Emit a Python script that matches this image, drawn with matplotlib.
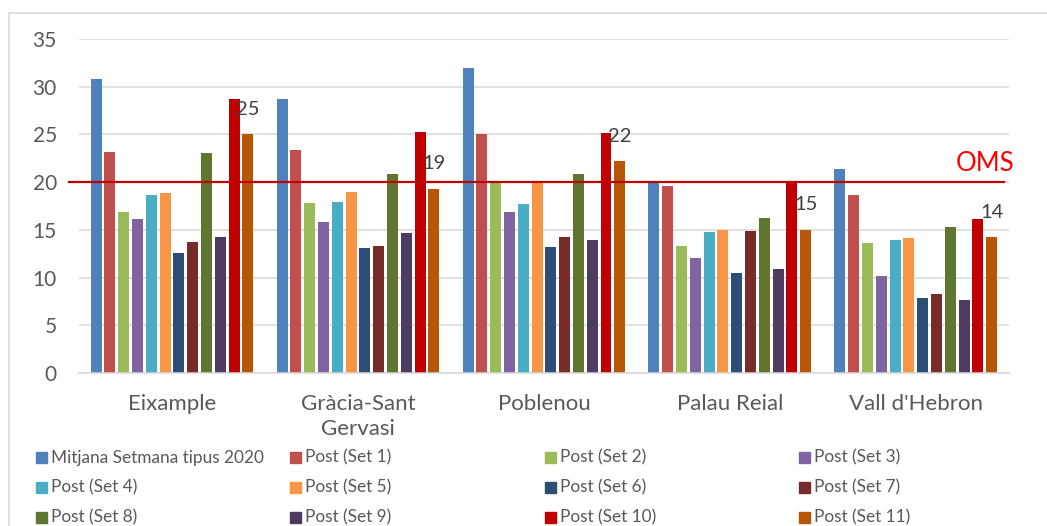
import matplotlib
matplotlib.use("Agg")
import matplotlib.pyplot as plt
from matplotlib.patches import Rectangle
import numpy as np

plt.rcParams["font.family"] = ["Lato", "DejaVu Sans"]

districts = ["Eixample", "Gràcia-Sant\nGervasi", "Poblenou", "Palau Reial", "Vall d'Hebron"]
series = ["Mitjana Setmana tipus 2020"] + ["Post (Set %d)" % i for i in range(1, 12)]
colors = ["#4F81BD", "#C0504D", "#9BBB59", "#8064A2", "#4BACC6", "#F79646",
          "#2C4D75", "#772C2A", "#5F7530", "#4D3B62", "#C00000", "#B65708"]

mitjana = [30.8, 28.7, 32.0, 20.1, 21.4]
set1 = [23.2, 23.4, 25.0, 19.6, 18.7]
set2 = [16.9, 17.8, 20.0, 13.3, 13.6]
set3 = [16.1, 15.8, 16.9, 12.1, 10.2]
set4 = [18.7, 17.9, 17.7, 14.8, 13.9]
set5 = [18.9, 19.0, 20.0, 15.0, 14.1]
set6 = [12.6, 13.1, 13.2, 10.5, 7.9]
set7 = [13.7, 13.3, 14.2, 14.9, 8.3]
set8 = [23.0, 20.9, 20.8, 16.2, 15.3]
set9 = [14.3, 14.7, 13.9, 10.9, 7.7]
set10 = [28.7, 25.2, 25.1, 20.0, 16.1]
set11 = [25.0, 19.3, 22.2, 15.0, 14.2]
values = [mitjana, set1, set2, set3, set4, set5, set6, set7, set8, set9, set10, set11]

oms = 20

fig = plt.figure(figsize=(10.47, 5.26), dpi=100)
ax = fig.add_axes([0.0755, 0.2909, 0.888, 0.635])

x = np.arange(len(districts))
step = 0.0742
for i, (vals, c) in enumerate(zip(values, colors)):
    ax.bar(x + (i - 5.5) * step, vals, width=0.059, color=c, zorder=2)

# labels on Set 11
for xi, v in zip(x + 5.5 * step, set11):
    ax.annotate("%d" % round(v), (xi, v), xytext=(0, 18), textcoords="offset points",
                ha="center", va="center", fontsize=14.5, color="#404040")

ax.axhline(oms, xmin=-0.011, xmax=0.995, color="#C00000", lw=1.6, clip_on=False, zorder=3)
ax.text(0.974, 22.0, "OMS", transform=ax.get_yaxis_transform(), color="#FF0000",
        fontsize=18.5, ha="center", va="center")

ax.set_xlim(-0.5, 4.5)
ax.set_ylim(0, 35)
ax.set_yticks(range(0, 36, 5))
ax.set_xticks(x)
ax.set_xticklabels(districts, linespacing=1.3)
ax.grid(axis="y", color="#D9D9D9", lw=1.1, zorder=0)
for s in ["top", "right", "left"]:
    ax.spines[s].set_visible(False)
ax.spines["bottom"].set_color("#D9D9D9")
ax.spines["bottom"].set_linewidth(1.1)
ax.tick_params(axis="y", length=0, pad=16, labelsize=15, labelcolor="#595959")
ax.tick_params(axis="x", length=0, pad=15, labelsize=16, labelcolor="#595959")

# legend, fixed-width columns like excel
W, H = 1047.0, 526.0
for i, (name, c) in enumerate(zip(series, colors)):
    col, row = i % 4, i // 4
    mx = 36 + col * 254.3
    my = 457.5 + row * 30
    fig.add_artist(Rectangle((mx / W, 1 - (my + 5.5) / H), 11 / W, 11 / H,
                             transform=fig.transFigure, color=c))
    fig.text((mx + 15) / W, 1 - my / H, name, fontsize=12.4, color="#595959",
             ha="left", va="center")

# chart area border
fig.add_artist(Rectangle((9 / W, -0.1), 1.2, 1.1 - 13 / H, transform=fig.transFigure,
                         fill=False, edgecolor="#D9D9D9", lw=1.2))

fig.savefig("out.png", dpi=100)
